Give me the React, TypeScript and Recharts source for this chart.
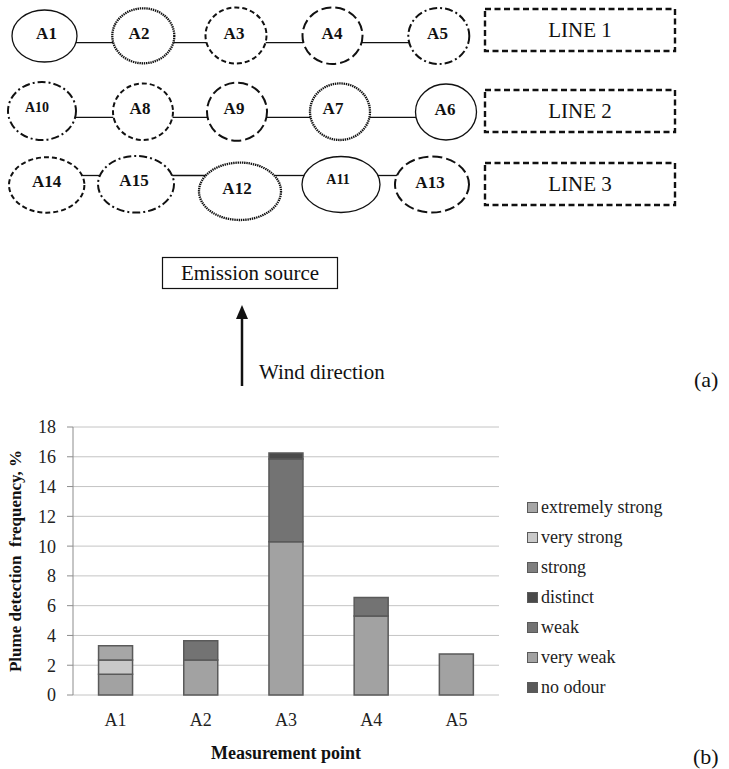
import { BarChart, Bar, XAxis, YAxis, CartesianGrid, Legend } from "recharts";

// ---- chart (b) data ----
const points = ["A1", "A2", "A3", "A4", "A5"];
const noOdour = [0, 0, 0, 0, 0];
const veryWeak = [1.4, 2.35, 10.3, 5.3, 2.75];
const weak = [0, 1.3, 5.55, 1.25, 0];
const distinct = [0, 0, 0.4, 0, 0];
const strong = [0, 0, 0, 0, 0];
const veryStrong = [0.95, 0, 0, 0, 0];
const extremelyStrong = [0.95, 0, 0, 0, 0];
const yTicks = [0, 2, 4, 6, 8, 10, 12, 14, 16, 18];

// ---- diagram (a) data ----
const line1 = ["A1", "A2", "A3", "A4", "A5"];
const line2 = ["A10", "A8", "A9", "A7", "A6"];
const line3 = ["A14", "A15", "A12", "A11", "A13"];
const lineNames = ["LINE 1", "LINE 2", "LINE 3"];

const series = [
  { key: "noOdour", name: "no odour", values: noOdour, color: "#595959" },
  { key: "veryWeak", name: "very weak", values: veryWeak, color: "#a2a2a2" },
  { key: "weak", name: "weak", values: weak, color: "#737373" },
  { key: "distinct", name: "distinct", values: distinct, color: "#4a4a4a" },
  { key: "strong", name: "strong", values: strong, color: "#7f7f7f" },
  { key: "veryStrong", name: "very strong", values: veryStrong, color: "#c9c9c9" },
  { key: "extremelyStrong", name: "extremely strong", values: extremelyStrong, color: "#a6a6a6" },
];

const data = points.map((p, i) => {
  const row: Record<string, any> = { point: p };
  series.forEach((s) => (row[s.key] = s.values[i]));
  return row;
});

const FONT = "Liberation Serif, Tinos, DejaVu Serif, serif";

// ellipse styles in the diagram
const DASH: Record<string, string | undefined> = {
  solid: undefined,
  dotted: "1.4 0.8",
  short: "5 3",
  long: "10 4",
  dashdot: "8 3 2 3",
};

// layout of the diagram nodes: [cx, cy, rx, ry, style, labelX, labelY, fontSize]
const nodeLayout: Record<string, [number, number, number, number, string, number, number, number]> = {
  A1: [44.5, 36, 32.5, 26, "solid", 46.5, 33, 17],
  A2: [143.3, 35.8, 31, 27.5, "dotted", 139, 33, 17],
  A3: [236, 35.5, 30.5, 28, "short", 234, 33, 17],
  A4: [332.5, 35.7, 30, 28.3, "long", 332, 33, 17],
  A5: [438.8, 36, 30.5, 28, "dashdot", 437.5, 33, 17],
  A10: [42, 111, 34, 29, "dashdot", 37, 107, 14],
  A8: [143, 111.7, 30, 28.3, "short", 140, 108, 17],
  A9: [237, 111.7, 30, 29, "long", 234, 108, 17],
  A7: [340, 111.7, 30, 28.3, "dotted", 333, 108, 17],
  A6: [446, 112, 30.5, 28, "solid", 445, 109, 17],
  A14: [46.7, 185, 37.7, 27.7, "short", 46.7, 181.5, 17],
  A15: [136, 184.3, 38, 28.3, "dashdot", 134, 180.5, 17],
  A12: [240, 191.3, 41, 28.7, "dotted", 237, 188.5, 17],
  A11: [341, 184.5, 39, 28, "solid", 338, 179.5, 14],
  A13: [432, 184.5, 37, 28, "long", 430, 182, 17],
};
const rowLineY = [42.7, 117.3, 175.5];
const boxY = [9, 90, 163];

function edgeX(name: string, y: number, side: 1 | -1) {
  const [cx, cy, rx, ry] = nodeLayout[name];
  const t = (y - cy) / ry;
  return cx + side * rx * Math.sqrt(Math.max(0, 1 - t * t));
}

function Diagram() {
  const rows = [line1, line2, line3];
  return (
    <svg width={729} height={400} style={{ position: "absolute", left: 0, top: 0, fontFamily: FONT }}>
      {rows.map((row, r) => (
        <g key={r}>
          {row.slice(1).map((n, i) => (
            <line
              key={n}
              x1={edgeX(row[i], rowLineY[r], 1)}
              x2={edgeX(n, rowLineY[r], -1)}
              y1={rowLineY[r]}
              y2={rowLineY[r]}
              stroke="#111"
              strokeWidth={1.3}
            />
          ))}
          {row.map((n) => {
            const [cx, cy, rx, ry, st, lx, ly, fs] = nodeLayout[n];
            return (
              <g key={n}>
                <ellipse
                  cx={cx}
                  cy={cy}
                  rx={rx}
                  ry={ry}
                  fill="#fff"
                  stroke="#111"
                  strokeWidth={st === "solid" ? 1.3 : st === "dotted" ? 2.3 : 2}
                  strokeDasharray={DASH[st]}
                />
                <text x={lx} y={ly} textAnchor="middle" dominantBaseline="central" fontWeight="bold" fontSize={fs} fill="#111">
                  {n}
                </text>
              </g>
            );
          })}
          <rect x={485} y={boxY[r]} width={190} height={42} fill="none" stroke="#111" strokeWidth={2.4} strokeDasharray="6 3.5" />
          <text x={580} y={boxY[r] + 21} textAnchor="middle" dominantBaseline="central" fontSize={21} fill="#111">
            {lineNames[r]}
          </text>
        </g>
      ))}
      <rect x={162.5} y={257.5} width={175} height={31} fill="none" stroke="#111" strokeWidth={1.2} />
      <text x={250} y={273} textAnchor="middle" dominantBaseline="central" fontSize={21} fill="#111">
        Emission source
      </text>
      <line x1={242} x2={242} y1={386} y2={316} stroke="#111" strokeWidth={2.5} />
      <polygon points="236,319 248,319 242,305" fill="#111" />
      <text x={259} y={372} dominantBaseline="central" fontSize={21} fill="#111">
        Wind direction
      </text>
      <text x={694} y={379} dominantBaseline="central" fontSize={22} fill="#111">
        (a)
      </text>
    </svg>
  );
}

// legend in the order Excel shows it: top series first
function LegendBox() {
  const items = series.slice().reverse();
  return (
    <div style={{ fontFamily: FONT, fontSize: 18, color: "#222" }}>
      {items.map((it) => (
        <div key={it.key} style={{ height: 30, lineHeight: "30px", display: "flex", alignItems: "center", whiteSpace: "nowrap" }}>
          <span
            style={{
              display: "inline-block",
              width: 9,
              height: 9,
              background: it.color,
              border: "1px solid #5a5a5a",
              marginRight: 3,
            }}
          />
          <span>{it.name}</span>
        </div>
      ))}
    </div>
  );
}

export default function App() {
  return (
    <div style={{ position: "absolute", left: 0, top: 0, width: 729, height: 769, background: "#fff", fontFamily: FONT }}>
      <Diagram />
      <div style={{ position: "absolute", left: 0, top: 400 }}>
        <BarChart width={729} height={369} data={data} margin={{ top: 27, right: 230, bottom: 0, left: 0 }} barCategoryGap="30%">
          <CartesianGrid vertical={false} stroke="#c4c4c4" />
          <XAxis
            xAxisId="ticks"
            type="number"
            domain={[0, 5]}
            ticks={[0, 1, 2, 3, 4, 5]}
            height={0}
            tick={false}
            tickSize={5}
            axisLine={{ stroke: "#8c8c8c" }}
            tickLine={{ stroke: "#8c8c8c" }}
          />
          <XAxis
            dataKey="point"
            height={74}
            axisLine={false}
            tickLine={false}
            tickSize={6}
            tickMargin={12}
            tick={{ fontSize: 18, fill: "#222", fontFamily: FONT }}
            label={{
              content: ({ viewBox }: any) => (
                <text
                  x={viewBox.x + viewBox.width / 2}
                  y={viewBox.y + 58}
                  textAnchor="middle"
                  dominantBaseline="central"
                  fontWeight="bold"
                  fontSize={18}
                  style={{ fontFamily: FONT }}
                  fill="#111"
                >
                  Measurement point
                </text>
              ),
            }}
          />
          <YAxis
            width={73}
            domain={[0, 18]}
            ticks={yTicks}
            interval={0}
            tickSize={6}
            tickMargin={11}
            axisLine={{ stroke: "#8c8c8c" }}
            tickLine={{ stroke: "#8c8c8c" }}
            tick={{ fontSize: 18, fill: "#222", fontFamily: FONT }}
            label={{
              content: ({ viewBox }: any) => {
                const cx = viewBox.x + 15;
                const cy = viewBox.y + viewBox.height / 2;
                return (
                  <text
                    x={cx}
                    y={cy}
                    transform={`rotate(-90 ${cx} ${cy})`}
                    textAnchor="middle"
                    dominantBaseline="central"
                    fontWeight="bold"
                    fontSize={17}
                    fill="#111"
                    style={{ whiteSpace: "pre", fontFamily: FONT }}
                  >
                    {"Plume detection  frequency, %"}
                  </text>
                );
              },
            }}
          />
          <Legend
            layout="vertical"
            align="center"
            verticalAlign="middle"
            wrapperStyle={{ left: 527, top: 92, width: 200 }}
            content={<LegendBox />}
          />
          {series.map((s) => (
            <Bar
              key={s.key}
              dataKey={s.key}
              name={s.name}
              stackId="a"
              fill={s.color}
              stroke="#5a5a5a"
              strokeWidth={1.5}
              isAnimationActive={false}
            />
          ))}
        </BarChart>
      </div>
      <div style={{ position: "absolute", left: 693, top: 744, fontSize: 22, color: "#111", fontFamily: FONT }}>(b)</div>
    </div>
  );
}
